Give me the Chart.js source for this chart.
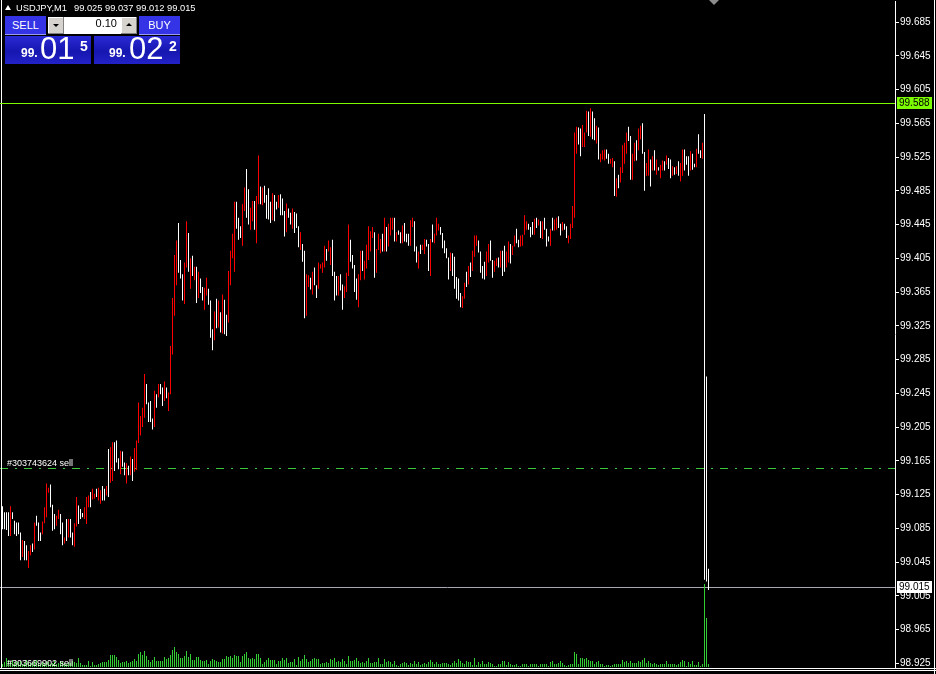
<!DOCTYPE html>
<html>
<head>
<meta charset="utf-8">
<script src="https://cdn.jsdelivr.net/npm/chart.js@4.4.1/dist/chart.umd.min.js"></script>
<style>
  html, body { margin: 0; padding: 0; background: #000; width: 936px; height: 674px; overflow: hidden; }
  #wrap { position: relative; width: 936px; height: 674px; }
  #wrap canvas { position: absolute; left: 0; top: 0; }
  #levelLine { position: absolute; left: 0; width: 895px; height: 1px; background: rgb(124,252,0); }
  .hdr { position: absolute; top: 2px; color: #fff; font: 9.3px "Liberation Sans", Arial, sans-serif; white-space: pre; line-height: 12px; }
  .tri { position: absolute; left: 5px; top: 5px; width: 0; height: 0; border-left: 3px solid transparent; border-right: 3px solid transparent; border-bottom: 5px solid #fff; }
  .shift { position: absolute; left: 709px; top: 0; width: 0; height: 0; border-left: 5px solid transparent; border-right: 5px solid transparent; border-top: 5px solid #8c8c8c; }
  .btn { position: absolute; top: 16px; width: 41px; height: 19px; background: #3434e6; color: #fff; font: 11px "Liberation Sans", Arial, sans-serif; text-align: center; line-height: 18px; box-shadow: inset 0 -1px 0 #9a9af2; }
  .lot { position: absolute; left: 48px; top: 17px; width: 89px; height: 17px; background: #fff; }
  .lot .arr { position: absolute; top: 0; width: 16px; height: 17px; background: #d6d3ce; box-shadow: inset -1px -1px 0 #808080, inset 1px 1px 0 #fff; }
  .lot .arr i { position: absolute; left: 5px; width: 0; height: 0; border-left: 3px solid transparent; border-right: 3px solid transparent; }
  .lot .dn i { top: 7px; border-top: 3px solid #000; }
  .lot .up i { top: 6px; border-bottom: 3px solid #000; }
  .lot .val { position: absolute; right: 20px; top: 0; line-height: 17px; font: 11px "Liberation Sans", Arial, sans-serif; color: #000; }
  .quote { position: absolute; top: 36px; width: 86px; height: 28px; background: linear-gradient(#2a2ad6, #1616b0 55%, #2222c8); color: #fff; font-family: "Liberation Sans", Arial, sans-serif; }
  .quote .s { position: absolute; bottom: 4px; font-size: 12px; font-weight: bold; }
  .quote .b { position: absolute; top: -2px; font-size: 31px; line-height: 30px; }
  .quote .p { position: absolute; top: 2px; font-size: 14px; font-weight: bold; }
</style>
</head>
<body>
<div id="wrap">
  <canvas id="chart" width="936" height="674"></canvas>
  <div id="levelLine"></div>
  <div class="tri"></div>
  <div class="hdr" style="left:16px">USDJPY,M1</div>
  <div class="hdr" style="left:74px">99.025 99.037 99.012 99.015</div>
  <div class="shift"></div>
  <div class="btn" style="left:5px">SELL</div>
  <div class="lot"><div class="arr dn" style="left:0"><i></i></div><div class="val">0.10</div><div class="arr up" style="right:0"><i></i></div></div>
  <div class="btn" style="left:139px">BUY</div>
  <div class="quote" style="left:5px"><span class="s" style="left:16px">99.</span><span class="b" style="left:35px">01</span><span class="p" style="left:75px">5</span></div>
  <div class="quote" style="left:94px"><span class="s" style="left:15px">99.</span><span class="b" style="left:35px">02</span><span class="p" style="left:75px">2</span></div>
</div>
<script>
// USDJPY M1, one bar per minute, oldest first
const highs = [
  99.111,99.104,99.104,99.104,99.111,99.104,99.094,99.092,99.092,99.080,99.071,99.070,99.065,99.058,99.065,99.067,99.092,99.100,99.092,99.080,
  99.093,99.110,99.138,99.133,99.137,99.113,99.102,99.100,99.107,99.102,99.092,99.074,99.096,99.096,99.096,99.080,99.091,99.122,99.112,99.108,
  99.103,99.110,99.122,99.124,99.128,99.132,99.126,99.132,99.133,99.130,99.135,99.132,99.135,99.179,99.181,99.187,99.187,99.189,99.168,
  99.177,99.176,99.163,99.162,99.159,99.170,99.167,99.180,99.189,99.234,99.218,99.228,99.268,99.256,99.234,99.236,99.215,99.248,99.244,99.256,
  99.256,99.252,99.259,99.252,99.246,99.301,99.358,99.409,99.426,99.447,99.403,99.386,99.400,99.449,99.435,99.405,99.408,99.395,99.395,99.389,
  99.381,99.371,99.370,99.382,99.369,99.355,99.321,99.342,99.357,99.355,99.341,99.362,99.356,99.338,99.390,99.414,99.434,99.472,99.472,
  99.453,99.443,99.469,99.489,99.511,99.487,99.465,99.473,99.473,99.479,99.527,99.490,99.489,99.491,99.480,99.488,99.472,99.482,99.480,99.472,
  99.480,99.481,99.476,99.461,99.470,99.464,99.459,99.464,99.460,99.458,99.443,99.436,99.422,99.414,99.386,99.385,99.382,99.389,99.394,99.373,
  99.400,99.398,99.400,99.420,99.416,99.426,99.418,99.427,99.389,99.384,99.384,99.386,99.374,99.372,99.388,99.445,99.427,99.409,99.397,99.381,
  99.386,99.414,99.414,99.402,99.421,99.443,99.437,99.442,99.436,99.416,99.434,99.428,99.434,99.453,99.442,99.446,99.453,99.453,99.453,99.436,
  99.438,99.436,99.444,99.447,99.434,99.434,99.450,99.453,99.449,99.419,99.413,99.421,99.421,99.428,99.427,99.422,99.428,99.445,99.434,99.453,
  99.446,99.442,99.435,99.426,99.417,99.406,99.412,99.411,99.407,99.383,99.381,99.364,99.360,99.376,99.389,99.396,99.400,99.414,99.432,99.432,
  99.426,99.413,99.396,99.401,99.413,99.422,99.426,99.403,99.402,99.405,99.406,99.414,99.414,99.420,99.413,99.425,99.422,99.420,99.432,99.440,
  99.427,99.432,99.433,99.456,99.449,99.446,99.442,99.448,99.452,99.453,99.451,99.449,99.449,99.453,99.440,99.431,99.440,99.453,99.451,99.453,
  99.455,99.446,99.448,99.446,99.443,99.432,99.446,99.467,99.554,99.561,99.560,99.559,99.563,99.554,99.580,99.579,99.583,99.579,99.571,99.562,
  99.560,99.529,99.533,99.534,99.534,99.529,99.523,99.524,99.520,99.500,99.504,99.513,99.539,99.542,99.554,99.561,99.550,99.529,99.542,99.545,
  99.559,99.562,99.565,99.531,99.518,99.534,99.522,99.526,99.533,99.522,99.513,99.516,99.521,99.520,99.527,99.524,99.522,99.514,99.513,99.514,
  99.520,99.518,99.534,99.534,99.526,99.526,99.532,99.529,99.517,99.535,99.552,99.533,99.542,99.576,99.265,99.037
];
const lows = [
  99.084,99.084,99.083,99.076,99.076,99.096,99.078,99.076,99.078,99.047,99.051,99.047,99.047,99.038,99.053,99.057,99.060,99.088,99.070,99.070,
  99.078,99.091,99.098,99.127,99.110,99.082,99.084,99.088,99.096,99.078,99.065,99.067,99.070,99.074,99.074,99.065,99.063,99.087,99.090,99.096,
  99.098,99.096,99.090,99.110,99.110,99.119,99.120,99.122,99.118,99.114,99.118,99.118,99.124,99.122,99.139,99.141,99.153,99.163,99.155,
  99.149,99.158,99.148,99.138,99.148,99.148,99.141,99.152,99.154,99.186,99.195,99.205,99.216,99.232,99.211,99.211,99.202,99.205,99.228,99.240,
  99.244,99.230,99.236,99.239,99.224,99.244,99.291,99.337,99.373,99.388,99.381,99.355,99.351,99.394,99.389,99.369,99.384,99.379,99.352,99.358,
  99.364,99.355,99.344,99.361,99.350,99.311,99.296,99.308,99.322,99.323,99.317,99.316,99.315,99.313,99.329,99.373,99.405,99.389,99.440,
  99.427,99.429,99.420,99.461,99.453,99.445,99.439,99.449,99.439,99.423,99.469,99.469,99.468,99.471,99.452,99.451,99.447,99.450,99.449,99.463,
  99.465,99.456,99.456,99.431,99.436,99.453,99.445,99.440,99.435,99.441,99.418,99.415,99.401,99.334,99.337,99.371,99.368,99.362,99.373,99.358,
  99.369,99.393,99.388,99.394,99.402,99.413,99.397,99.384,99.355,99.361,99.361,99.367,99.344,99.358,99.365,99.384,99.401,99.393,99.365,99.356,
  99.347,99.379,99.390,99.380,99.393,99.403,99.413,99.429,99.382,99.388,99.415,99.411,99.413,99.413,99.413,99.419,99.432,99.439,99.425,99.425,
  99.433,99.423,99.423,99.425,99.424,99.420,99.420,99.442,99.413,99.400,99.393,99.410,99.415,99.410,99.419,99.390,99.384,99.424,99.423,99.432,
  99.438,99.433,99.417,99.411,99.405,99.380,99.390,99.384,99.369,99.357,99.355,99.347,99.346,99.357,99.371,99.374,99.383,99.390,99.407,99.420,
  99.412,99.388,99.381,99.380,99.384,99.400,99.402,99.382,99.389,99.396,99.394,99.394,99.384,99.389,99.394,99.400,99.399,99.409,99.419,99.423,
  99.418,99.419,99.420,99.433,99.439,99.439,99.430,99.433,99.433,99.441,99.444,99.429,99.428,99.439,99.419,99.425,99.420,99.438,99.438,99.439,
  99.441,99.432,99.438,99.439,99.429,99.423,99.428,99.441,99.453,99.529,99.540,99.526,99.537,99.537,99.554,99.550,99.549,99.546,99.545,99.541,
  99.522,99.519,99.522,99.521,99.523,99.517,99.517,99.513,99.479,99.478,99.488,99.495,99.506,99.517,99.529,99.544,99.498,99.498,99.520,99.521,
  99.533,99.546,99.529,99.485,99.503,99.503,99.490,99.509,99.509,99.504,99.509,99.500,99.509,99.509,99.516,99.511,99.500,99.503,99.504,99.505,
  99.503,99.496,99.503,99.509,99.516,99.503,99.509,99.510,99.513,99.513,99.529,99.524,99.523,99.024,99.022,99.012
];
// r = bull bar (close above open), w = bear bar
const barDir = (
  "wwwwrwwwwwrwwrrwrwwwrrrrwwwrrwwrwrwwrrwwwrrrwrrwrrwwrwrrww" + "w" +
  "rwwrwrwrrrrrrwwwwrwrwwrwrrrrrwwwrrwrwrwrwwrrwwwrwrwrwwrrrrw" +
  "wwrrwwrrwrrwrwwwwrwwrwwwrwwrwwwrwwrrwrwwrrrrwrrwwwrwwrrrwwww" +
  "rrwrrrrrwrrrwrwrrrwrwwrwwwrrwwrwrrwwrwrrrwwwwwrwwwwwrrwrwrrr" +
  "wwwwrrwwrrwrwwrrwrrwwrrrrwwwrwrwrwwwrwrrwwrwwrrrrrwwrrrwrwwr" +
  "wrrrwwrrwrwrrrrwwrrwrrwwrrwrwrwrrwrwwrwrwrrwwwrwwrwwrwww"
).split("");
// tick volume of each bar
const tickVolume = [
  3,5,9,7,5,7,4,6,5,6,3,4,7,5,4,5,6,7,4,3,5,4,6,5,3,4,6,3,4,6,5,4,3,5,4,6,5,4,
  9,4,2,2,2,6,1,5,2,2,3,4,5,5,5,7,12,12,12,10,7,
  4,5,5,6,4,5,6,8,6,13,15,12,16,11,7,5,7,10,6,6,6,6,10,8,9,12,17,20,15,13,9,9,11,16,10,13,7,7,10,10,7,6,6,7,3,6,8,7,6,5,5,8,8,11,10,11,9,12,11,
  11,5,11,13,15,9,8,9,8,13,13,9,3,5,7,9,7,7,7,3,6,6,9,7,9,4,5,5,8,2,10,6,8,12,8,5,6,8,9,8,8,3,4,4,5,4,8,7,9,5,6,5,8,6,3,11,6,6,7,9,
  6,4,5,4,6,9,4,4,5,5,9,3,3,8,5,6,5,3,6,2,1,3,4,5,4,2,4,3,6,3,5,2,3,4,3,5,7,5,3,5,3,3,4,4,4,3,2,4,6,4,8,6,4,3,6,5,5,2,9,2,
  5,3,6,3,3,5,4,3,1,1,3,3,6,6,2,5,3,2,2,3,1,1,3,3,3,1,3,3,3,3,1,3,3,3,3,1,5,6,3,3,4,6,4,2,1,2,3,3,15,13,3,9,9,8,9,7,6,6,3,5,
  6,3,3,1,2,2,1,2,3,3,3,3,7,5,6,4,6,4,4,4,6,5,7,9,4,6,4,3,4,3,2,3,3,3,6,3,3,3,3,2,3,5,7,6,1,5,3,6,2,2,5,1,3,83,49,3
];
const priceTicks = [98.925,98.965,99.005,99.045,99.085,99.125,99.165,99.205,99.245,99.285,
                    99.325,99.365,99.405,99.445,99.485,99.525,99.565,99.605,99.645,99.685];
const levelPrice = 99.588;
const bidPrice = 99.015;
const orderPrice = 99.156;
const orderLabels = ["#303743624 sell", "#303669902 sell"];

const candleData = highs.map((h, i) => ({ x: i, y: [lows[i], h] }));
const volumeData = tickVolume.map((v, i) => ({ x: i, y: v }));
const candleColors = barDir.map(d => d === "r" ? "#ff0000" : "#ffffff");

const FONT = "Liberation Sans";

function hline(ctx, a, py, color, dash) {
  ctx.save();
  ctx.strokeStyle = color;
  ctx.lineWidth = 1;
  ctx.setLineDash(dash);
  ctx.beginPath();
  ctx.moveTo(a.left, py);
  ctx.lineTo(a.right, py);
  ctx.stroke();
  ctx.restore();
}

const terminalLayer = {
  id: "terminalLayer",
  beforeDatasetsDraw(chart) {
    const { ctx, chartArea: a, scales: { y } } = chart;
    const px = v => Math.floor(y.getPixelForValue(v)) + 0.5;
    hline(ctx, a, px(bidPrice), "#a8a8b4", []);
    hline(ctx, a, px(orderPrice), "#3cc83c", [8, 7, 2, 7]);
  },
  afterDraw(chart) {
    const { ctx, chartArea: a, scales: { y } } = chart;
    const px = v => Math.floor(y.getPixelForValue(v)) + 0.5;
    hline(ctx, a, px(levelPrice), "rgb(124,252,0)", []);

    ctx.save();
    // window frame
    ctx.strokeStyle = "#ffffff";
    ctx.lineWidth = 1;
    ctx.beginPath();
    ctx.moveTo(1.5, 0); ctx.lineTo(1.5, a.bottom + 1);
    ctx.moveTo(934.5, 0); ctx.lineTo(934.5, 674);
    ctx.moveTo(0, a.bottom + 1.5); ctx.lineTo(936, a.bottom + 1.5);
    ctx.moveTo(0, a.bottom + 3.5); ctx.lineTo(936, a.bottom + 3.5);
    ctx.stroke();

    // order labels
    ctx.fillStyle = "#ffffff";
    ctx.font = "9px '" + FONT + "'";
    ctx.textBaseline = "alphabetic";
    ctx.textAlign = "left";
    ctx.fillText(orderLabels[0], 7, Math.floor(y.getPixelForValue(orderPrice)) - 2);
    ctx.fillText(orderLabels[1], 7, a.bottom - 1);

    // price boxes on the axis
    const box = (price, bg) => {
      const py = Math.floor(y.getPixelForValue(price));
      ctx.fillStyle = bg;
      ctx.fillRect(a.right + 2, py - 6, 35, 12);
      ctx.fillStyle = "#000";
      ctx.font = "10px '" + FONT + "'";
      ctx.textBaseline = "middle";
      ctx.fillText(price.toFixed(3), a.right + 4, py + 0.5);
    };
    box(levelPrice, "#7cfc00");
    box(bidPrice, "#ffffff");
    ctx.restore();
  }
};

const chart = new Chart(document.getElementById("chart"), {
  type: "bar",
  data: {
    datasets: [{
      label: "USDJPY,M1",
      data: candleData,
      backgroundColor: candleColors,
      borderWidth: 0,
      barThickness: 1,
      minBarLength: 1,
      inflateAmount: 0,
      grouped: false,
      yAxisID: "y"
    }, {
      label: "Volumes",
      data: volumeData,
      backgroundColor: "#32cd32",
      borderWidth: 0,
      barThickness: 1,
      inflateAmount: 0,
      grouped: false,
      yAxisID: "vol"
    }]
  },
  options: {
    responsive: false,
    devicePixelRatio: 1,
    animation: false,
    layout: { padding: { left: 0, right: 0, top: 1, bottom: 7 } },
    plugins: { legend: { display: false }, tooltip: { enabled: false } },
    scales: {
      x: {
        type: "linear",
        display: false,
        offset: false,
        min: -1.25,
        max: -1.25 + 895 / 2
      },
      y: {
        position: "right",
        min: 98.9206,
        max: 99.7100,
        afterFit(scale) {
          scale.width = 41;
          scale.paddingTop = 0;
          scale.paddingBottom = 0;
        },
        afterBuildTicks(scale) { scale.ticks = priceTicks.map(v => ({ value: v })); },
        ticks: {
          color: "#ffffff",
          font: { family: FONT, size: 10 },
          padding: 1,
          autoSkip: false,
          maxRotation: 0,
          callback: v => Number(v).toFixed(3)
        },
        grid: { drawOnChartArea: false, color: "#ffffff", tickLength: 4 },
        border: { color: "#ffffff" }
      },
      vol: {
        display: false,
        min: 0,
        max: 666
      }
    }
  },
  plugins: [terminalLayer]
});

// level line repeated as a page element on the same pixel row
const lvl = document.getElementById("levelLine");
lvl.style.top = Math.floor(chart.scales.y.getPixelForValue(levelPrice)) + "px";
lvl.style.width = chart.chartArea.right + "px";
</script>
</body>
</html>
